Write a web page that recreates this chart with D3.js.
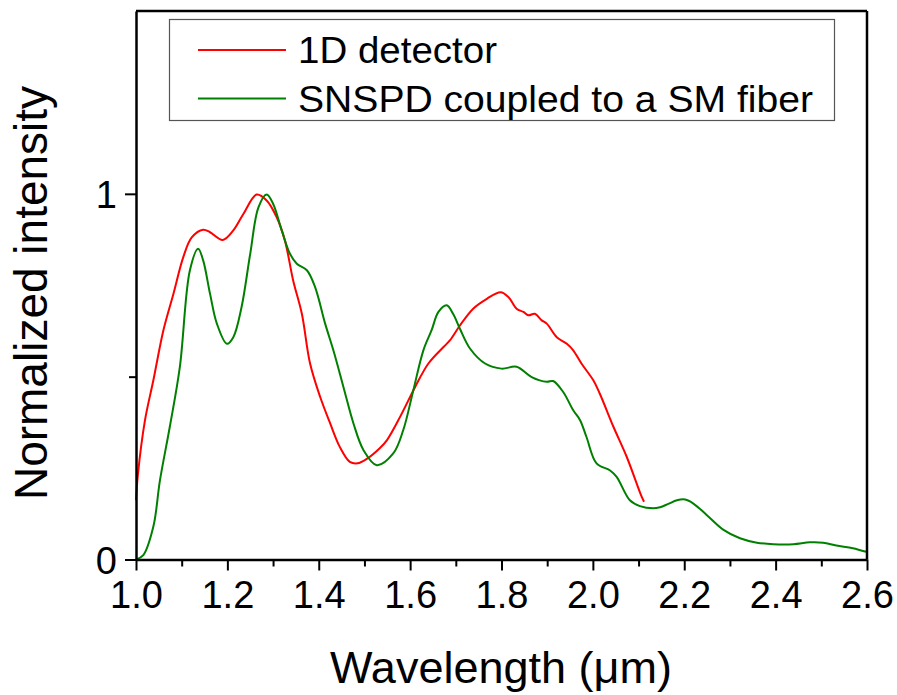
<!DOCTYPE html>
<html>
<head>
<meta charset="utf-8">
<script src="https://cdn.jsdelivr.net/npm/d3@7"></script>
<style>
  body { margin: 0; background: #fff; }
  svg { display: block; font-family: "Liberation Sans", Arial, sans-serif; }
</style>
</head>
<body>
<svg id="chart" width="897" height="695"></svg>
<script>
// series
var wlDetector = [1.0, 1.004, 1.0197, 1.038, 1.060, 1.082, 1.1035, 1.122, 1.147, 1.162, 1.190, 1.213, 1.235, 1.264, 1.286,
    1.308, 1.326, 1.344, 1.363, 1.381, 1.403, 1.425, 1.446, 1.468, 1.485, 1.505, 1.534, 1.549, 1.578, 1.611,
    1.640, 1.673, 1.687, 1.709, 1.738, 1.768, 1.798, 1.815, 1.833, 1.848, 1.859, 1.873, 1.888, 1.899, 1.921,
    1.943, 1.957, 1.975, 2.001, 2.015, 2.045, 2.074, 2.107, 2.112];
var intDetector = [0.162, 0.23, 0.381, 0.490, 0.627, 0.727, 0.827, 0.881, 0.902, 0.895, 0.874, 0.900, 0.945, 0.998, 0.982,
    0.936, 0.872, 0.763, 0.672, 0.536, 0.445, 0.372, 0.308, 0.267, 0.263, 0.275, 0.305, 0.326, 0.390, 0.472,
    0.536, 0.581, 0.599, 0.640, 0.686, 0.713, 0.731, 0.718, 0.686, 0.677, 0.668, 0.672, 0.654, 0.645, 0.608,
    0.590, 0.572, 0.536, 0.490, 0.454, 0.363, 0.281, 0.171, 0.158];

var wlSnspd = [1.0, 1.016, 1.038, 1.0525, 1.074, 1.096, 1.118, 1.136, 1.147, 1.162, 1.177, 1.199, 1.213, 1.231, 1.250,
    1.268, 1.286, 1.300, 1.319, 1.337, 1.352, 1.374, 1.392, 1.414, 1.432, 1.454, 1.476, 1.498, 1.527, 1.563,
    1.585, 1.607, 1.629, 1.647, 1.662, 1.680, 1.694, 1.709, 1.731, 1.764, 1.800, 1.833, 1.866, 1.899, 1.913,
    1.935, 1.957, 1.972, 1.986, 2.008, 2.037, 2.052, 2.081, 2.103, 2.132, 2.147, 2.165, 2.184, 2.202, 2.220,
    2.249, 2.286, 2.322, 2.359, 2.395, 2.439, 2.475, 2.504, 2.533, 2.569, 2.598];
var intSnspd = [0.0, 0.012, 0.09, 0.217, 0.363, 0.527, 0.791, 0.850, 0.818, 0.727, 0.645, 0.590, 0.608, 0.690, 0.836,
    0.963, 0.998, 0.973, 0.900, 0.836, 0.809, 0.791, 0.745, 0.645, 0.572, 0.472, 0.372, 0.299, 0.258, 0.290,
    0.354, 0.463, 0.572, 0.627, 0.677, 0.695, 0.672, 0.631, 0.577, 0.536, 0.522, 0.527, 0.499, 0.486, 0.488,
    0.458, 0.408, 0.381, 0.335, 0.263, 0.244, 0.226, 0.162, 0.146, 0.140, 0.143, 0.152, 0.162, 0.164, 0.153,
    0.122, 0.081, 0.058, 0.046, 0.042, 0.042, 0.047, 0.046, 0.038, 0.031, 0.021];

var seriesNames = ["1D detector", "SNSPD coupled to a SM fiber"];
var seriesColors = ["#ff0000", "#008000"];
var xMajorTicks = [1.0, 1.2, 1.4, 1.6, 1.8, 2.0, 2.2, 2.4, 2.6];
var xMinorTicks = [1.1, 1.3, 1.5, 1.7, 1.9, 2.1, 2.3, 2.5];
var yMajorTicks = [0, 1];
var yMinorTicks = [0.5];

var drawSpectra = function (svg_id) {
    var margin = { top: 11, right: 30, bottom: 135.5, left: 136 },
        width = 867 - margin.left,
        height = 559.5 - margin.top;

    var svg = d3.select("#" + svg_id)
        .append("g")
        .attr("transform", "translate(" + margin.left + "," + margin.top + ")");

    var x = d3.scaleLinear().domain([1.0, 2.6]).range([0, width]);
    var y = d3.scaleLinear().domain([0, 1.5]).range([height, 0]);

    // curves
    var series = [
        d3.zip(wlDetector, intDetector),
        d3.zip(wlSnspd, intSnspd)
    ];
    var line = d3.line()
        .x(function (d) { return x(d[0]); })
        .y(function (d) { return y(d[1]); })
        .curve(d3.curveCatmullRom.alpha(0.5));

    svg.append("g")
        .selectAll("path")
        .data(series)
        .enter()
        .append("path")
        .attr("d", line)
        .attr("fill", "none")
        .attr("stroke", function (d, i) { return seriesColors[i]; })
        .attr("stroke-width", 2);

    // frame: top and right lines
    svg.append("line").attr("x1", 0).attr("x2", width).attr("y1", 0).attr("y2", 0)
        .attr("stroke", "#000").attr("stroke-width", 2.5);
    svg.append("line").attr("x1", width).attr("x2", width).attr("y1", 0).attr("y2", height)
        .attr("stroke", "#000").attr("stroke-width", 2.5);

    // X axis
    svg.append("g")
        .attr("transform", "translate(0," + height + ")")
        .call(d3.axisBottom(x).tickValues(xMinorTicks).tickSize(7).tickFormat(""))
        .call(function (g) { g.select(".domain").remove(); });
    svg.append("g")
        .attr("transform", "translate(0," + height + ")")
        .call(d3.axisBottom(x).tickValues(xMajorTicks).tickSize(11).tickSizeOuter(0)
            .tickFormat(d3.format(".1f")).tickPadding(11));

    // Y axis
    svg.append("g")
        .call(d3.axisLeft(y).tickValues(yMinorTicks).tickSize(7).tickFormat(""))
        .call(function (g) { g.select(".domain").remove(); });
    var yAxis = svg.append("g")
        .call(d3.axisLeft(y).tickValues(yMajorTicks).tickSize(11).tickSizeOuter(0)
            .tickFormat(d3.format("d")).tickPadding(8));

    svg.selectAll(".tick line").attr("stroke-width", 2);
    svg.selectAll(".domain").attr("stroke-width", 2.5);
    svg.selectAll(".tick text")
        .attr("fill", "#000")
        .style("font-size", "38px")
        .style("font-family", "'Liberation Sans', Arial, sans-serif");
    yAxis.selectAll(".tick text").attr("dy", "0.36em");

    // axis titles
    d3.select("#" + svg_id).append("text")
        .attr("x", 501)
        .attr("y", 683)
        .attr("text-anchor", "middle")
        .style("font-size", "45px")
        .text("Wavelength (\u03bcm)");

    d3.select("#" + svg_id).append("text")
        .attr("transform", "translate(47,293) rotate(-90)")
        .attr("text-anchor", "middle")
        .style("font-size", "46px")
        .text("Normalized intensity");

    // legend
    var legend = d3.select("#" + svg_id).append("g");
    legend.append("rect")
        .attr("x", 169.5).attr("y", 19.5)
        .attr("width", 665).attr("height", 101)
        .attr("fill", "#fff")
        .attr("stroke", "#555")
        .attr("stroke-width", 1.2);
    var legendLengths = [199, 515];
    var rows = legend.selectAll(".row")
        .data(seriesNames)
        .enter()
        .append("g")
        .attr("class", "row")
        .attr("transform", function (d, i) { return "translate(0," + (50 + i * 48.5) + ")"; });
    rows.append("line")
        .attr("x1", 198).attr("x2", 286)
        .attr("stroke", function (d, i) { return seriesColors[i]; })
        .attr("stroke-width", 2);
    rows.append("text")
        .attr("x", 298)
        .attr("y", 13)
        .attr("textLength", function (d, i) { return legendLengths[i]; })
        .attr("lengthAdjust", "spacingAndGlyphs")
        .style("font-size", "37px")
        .text(function (d) { return d; });
};

drawSpectra("chart");
</script>
</body>
</html>
